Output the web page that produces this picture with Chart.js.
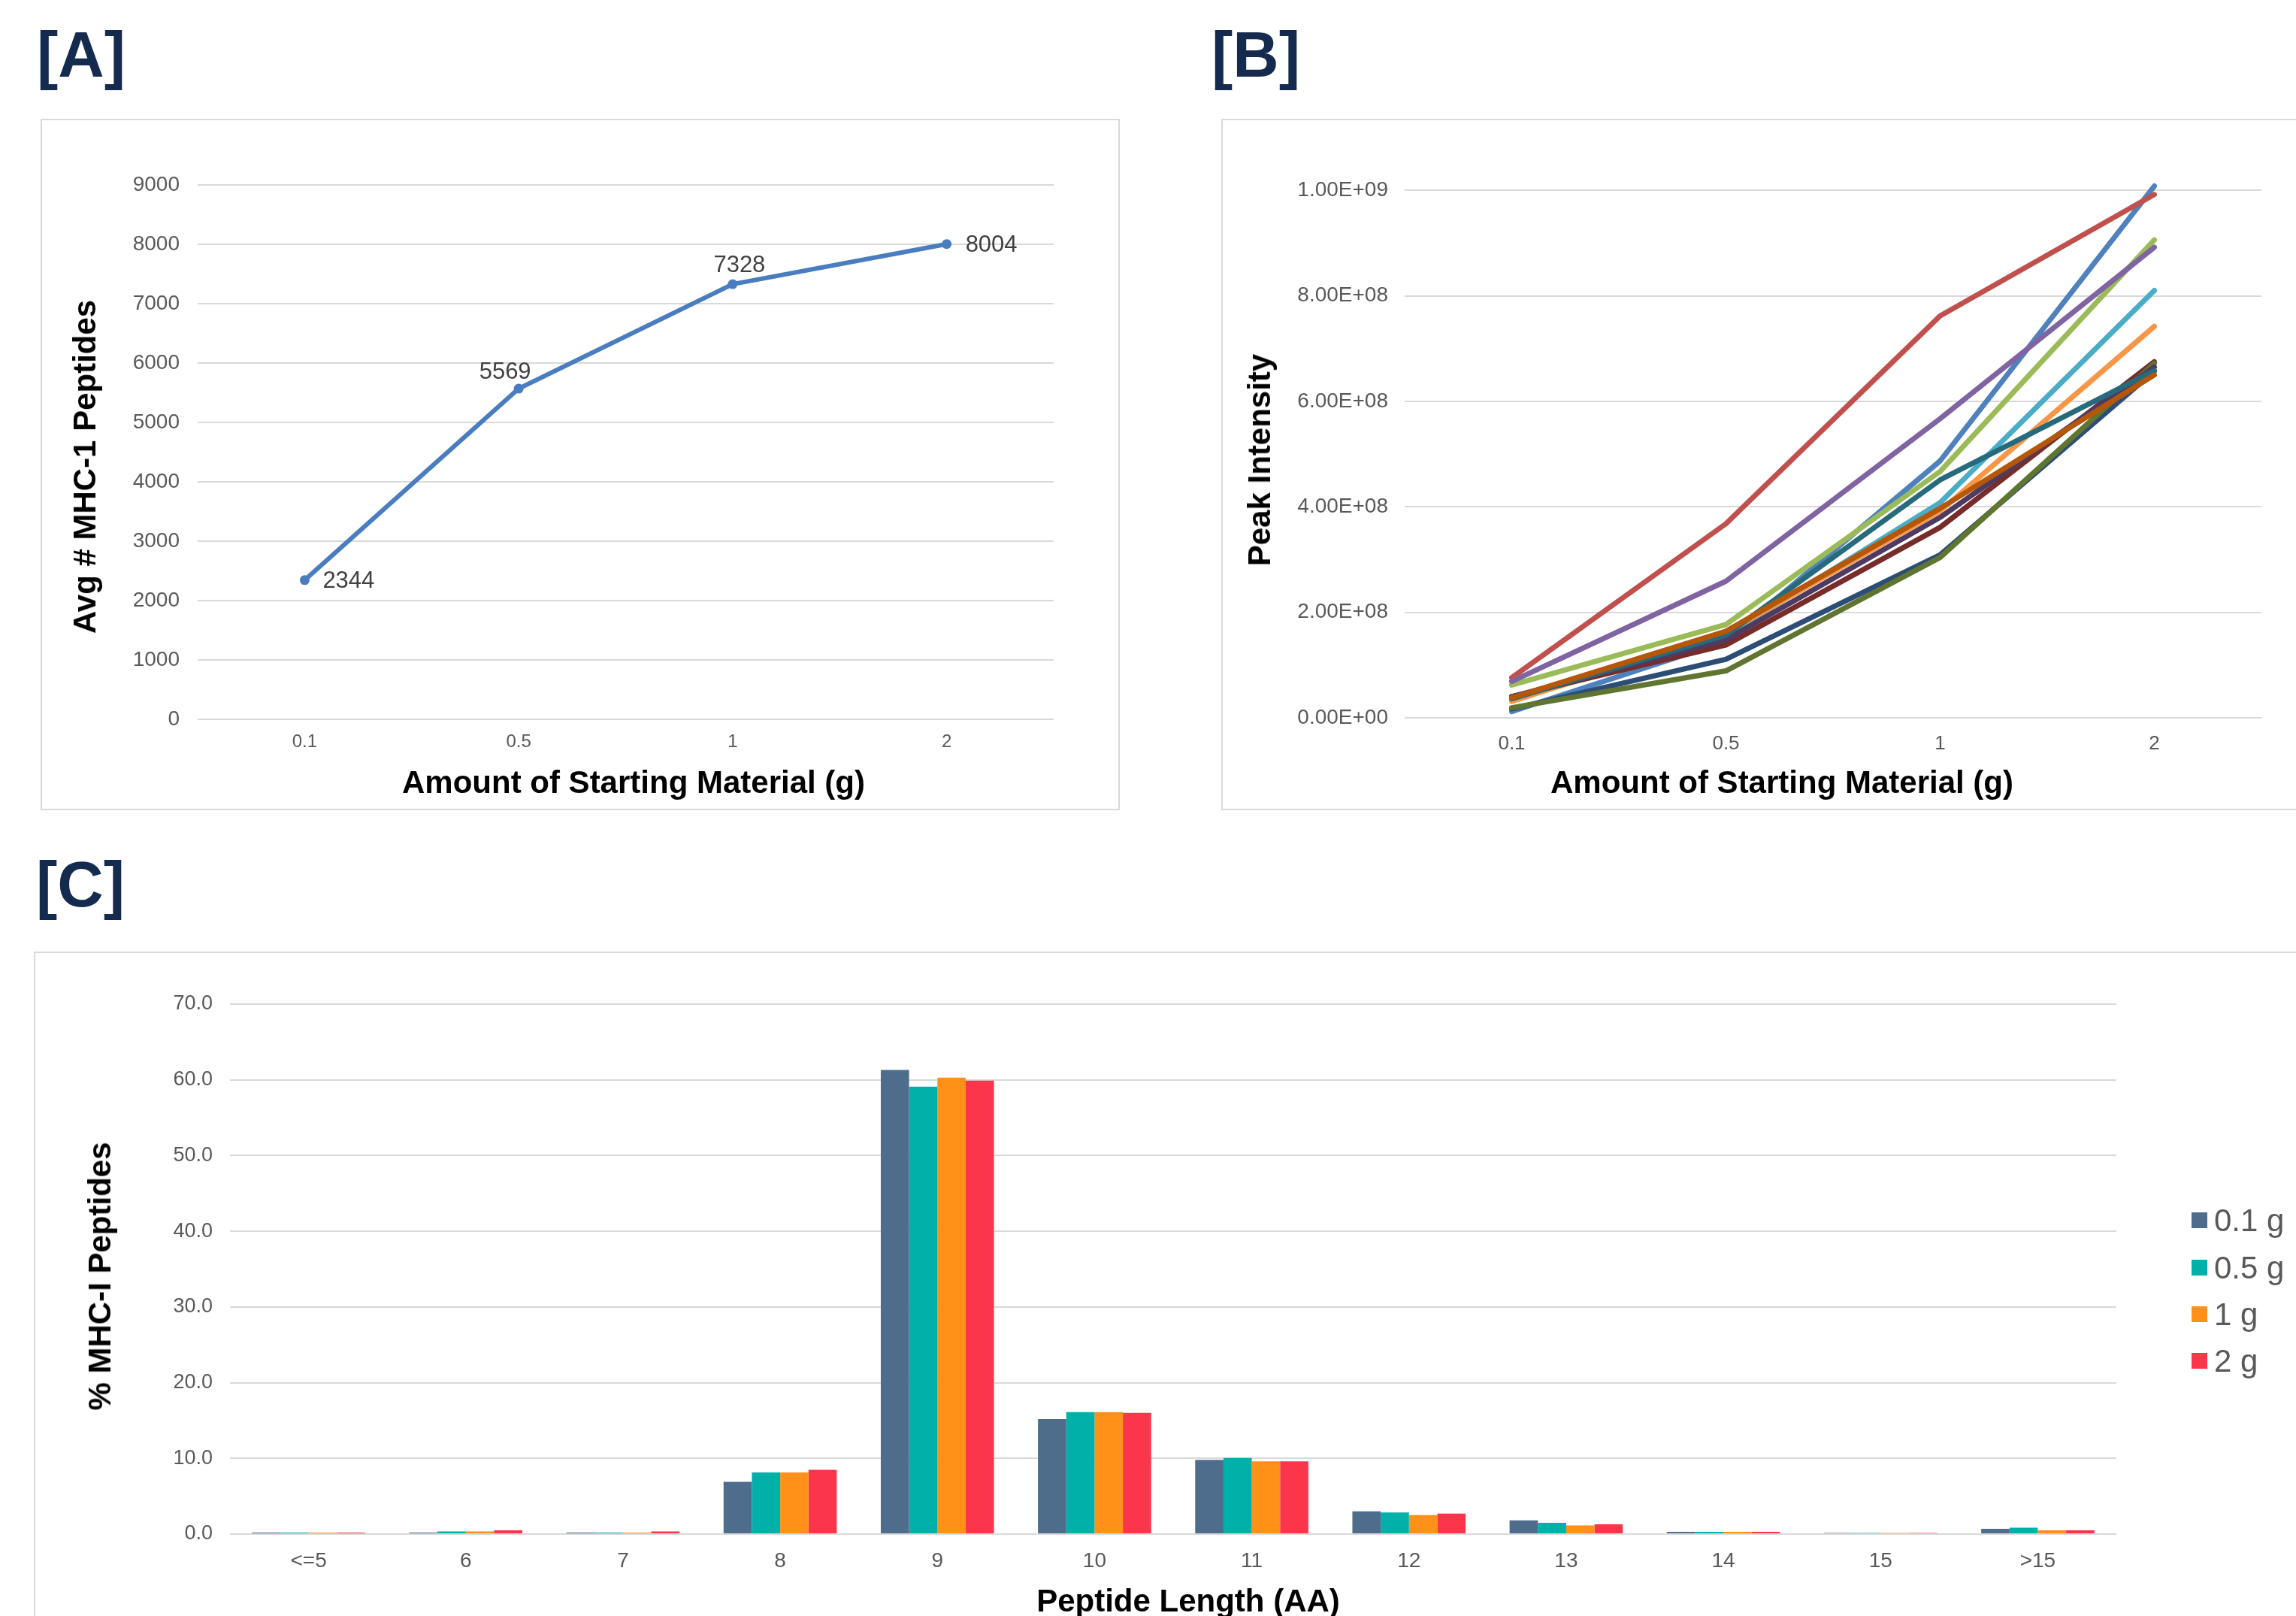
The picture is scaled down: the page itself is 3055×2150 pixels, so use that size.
<!DOCTYPE html>
<html>
<head>
<meta charset="utf-8">
<title>MHC-I peptide yield vs. starting material</title>
<script src="https://cdn.jsdelivr.net/npm/chart.js@4.4.1/dist/chart.umd.min.js"></script>
<style>
  html, body { margin: 0; padding: 0; background: #ffffff; }
  body { width: 3055px; height: 2150px; position: relative; overflow: hidden;
         font-family: 'Liberation Sans', Arial, sans-serif; }
  .panel-tag { position: absolute; font-weight: bold; font-size: 85px; line-height: 85px;
               color: #142a4f; white-space: nowrap; }
  .frame { position: absolute; box-sizing: border-box; border: 2px solid #d9d9d9; }
  canvas { position: absolute; }
  .axis-title { position: absolute; font-weight: bold; font-size: 42px; line-height: 42px;
                color: #000000; white-space: nowrap; }
  .h-title { transform: translate(-50%, -50%); }
  .v-title { transform: translate(-50%, -50%) rotate(-90deg); }
  .legend-row { position: absolute; height: 42px; white-space: nowrap; }
  .legend-swatch { position: absolute; left: 0; top: 10px; width: 21px; height: 21px; }
  .legend-text { position: absolute; left: 30px; top: 0; font-size: 42px; line-height: 42px; color: #595959; }
</style>
</head>
<body>

<!-- panel frames -->
<div class="frame" style="left:54px; top:158px; width:1436px; height:920px;"></div>
<div class="frame" style="left:1625px; top:158px; width:1450px; height:920px;"></div>
<div class="frame" style="left:45px; top:1266px; width:3030px; height:920px;"></div>

<!-- panel tags -->
<div class="panel-tag" style="left:49px; top:30px;">[A]</div>
<div class="panel-tag" style="left:1612px; top:30px;">[B]</div>
<div class="panel-tag" style="left:48px; top:1134px;">[C]</div>

<canvas id="chartA" width="1436" height="920" style="left:54px; top:158px;"></canvas>
<canvas id="chartB" width="1430" height="920" style="left:1625px; top:158px;"></canvas>
<canvas id="chartC" width="3010" height="884" style="left:45px; top:1266px;"></canvas>

<!-- axis titles -->
<div class="axis-title v-title" style="left:113px; top:621px;">Avg # MHC-1 Peptides</div>
<div class="axis-title h-title" style="left:843px; top:1041px;">Amount of Starting Material (g)</div>
<div class="axis-title v-title" style="left:1676px; top:612px;">Peak Intensity</div>
<div class="axis-title h-title" style="left:2371px; top:1041px;">Amount of Starting Material (g)</div>
<div class="axis-title v-title" style="left:133px; top:1698px;">% MHC-I Peptides</div>
<div class="axis-title h-title" style="left:1581px; top:2130px;">Peptide Length (AA)</div>

<div id="legendC"></div>

<script>
// ---------- data ----------
// Panel A: average number of MHC-1 peptides per amount of starting material
const amounts = ['0.1', '0.5', '1', '2'];
const avgPeptides = [2344, 5569, 7328, 8004];

// Panel B: peak intensity of individual peptides across the same amounts
const pep01 = [1.2e7, 1.45e8, 4.87e8, 1.008e9];
const pep02 = [7.6e7, 3.68e8, 7.62e8, 9.92e8];
const pep03 = [6.2e7, 1.77e8, 4.67e8, 9.06e8];
const pep04 = [6.9e7, 2.59e8, 5.67e8, 8.92e8];
const pep05 = [3.4e7, 1.55e8, 4.08e8, 8.10e8];
const pep06 = [3.1e7, 1.61e8, 3.92e8, 7.42e8];
const pep07 = [1.7e7, 1.11e8, 3.09e8, 6.57e8];
const pep08 = [4.0e7, 1.38e8, 3.61e8, 6.75e8];
const pep09 = [1.9e7, 8.9e7, 3.04e8, 6.72e8];
const pep10 = [4.0e7, 1.48e8, 3.80e8, 6.65e8];
const pep11 = [3.6e7, 1.57e8, 4.51e8, 6.58e8];
const pep12 = [3.8e7, 1.64e8, 3.97e8, 6.50e8];
const peakSeries = [pep01, pep02, pep03, pep04, pep05, pep06, pep07, pep08, pep09, pep10, pep11, pep12];
const peakColors = ['#4f81bd', '#c0504d', '#9bbb59', '#8064a2', '#4bacc6', '#f79646',
                    '#2c4d75', '#772c2a', '#5f7530', '#4d3b62', '#276a7c', '#b65708'];
const peakTicks = [0, 2e8, 4e8, 6e8, 8e8, 1e9];

// Panel C: peptide length distribution (% of MHC-I peptides)
const lengthBins = ['<=5', '6', '7', '8', '9', '10', '11', '12', '13', '14', '15', '>15'];
const sampleNames = ['0.1 g', '0.5 g', '1 g', '2 g'];
const pct01g = [0.2, 0.2, 0.2, 6.9, 61.3, 15.2, 9.8, 3.0, 1.8, 0.3, 0.15, 0.7];
const pct05g = [0.2, 0.35, 0.2, 8.15, 59.1, 16.1, 10.05, 2.85, 1.5, 0.3, 0.15, 0.85];
const pct1g  = [0.2, 0.35, 0.2, 8.15, 60.3, 16.1, 9.6, 2.5, 1.15, 0.3, 0.15, 0.5];
const pct2g  = [0.2, 0.5, 0.35, 8.5, 59.9, 16.0, 9.6, 2.7, 1.3, 0.3, 0.15, 0.5];
const sampleColors = ['#4e6c8b', '#00b0a9', '#ff9018', '#fb364b'];

// ---------- shared styling ----------
const FONT = "'Liberation Sans', Arial, sans-serif";
const TICK_COLOR = '#595959';
const GRID_COLOR = '#d9d9d9';

const commonOpts = {
  responsive: false,
  animation: false,
  devicePixelRatio: 1,
  events: []
};

// fixes the size of an axis box and drops the overhang reserved for end labels
function fixedWidth(w) {
  return s => { s.width = w; s.paddingTop = 0; s.paddingBottom = 0; };
}
function fixedHeight(h) {
  return s => { s.height = h; s.paddingLeft = 0; s.paddingRight = 0; };
}

// value labels next to the points of panel A
const pointLabels = {
  id: 'pointLabels',
  afterDatasetsDraw(chart, args, opts) {
    const ctx = chart.ctx;
    const meta = chart.getDatasetMeta(0);
    const values = chart.data.datasets[0].data;
    ctx.save();
    ctx.font = opts.size + 'px ' + FONT;
    ctx.fillStyle = opts.color;
    ctx.textBaseline = 'middle';
    meta.data.forEach((pt, i) => {
      const p = opts.placement[i];
      ctx.textAlign = p.side === 'right' ? 'left' : 'center';
      ctx.fillText(String(values[i]), pt.x + p.dx, pt.y + p.dy);
    });
    ctx.restore();
  }
};

// ---------- panel A ----------
new Chart(document.getElementById('chartA'), {
  type: 'line',
  data: {
    labels: amounts,
    datasets: [{
      data: avgPeptides,
      borderColor: '#4a7dbf',
      backgroundColor: '#4a7dbf',
      borderWidth: 6,
      pointRadius: 6.5,
      pointBorderWidth: 0,
      tension: 0
    }]
  },
  options: Object.assign({}, commonOpts, {
    layout: { padding: { top: 88, right: 88, bottom: 0, left: 0 } },
    plugins: {
      legend: { display: false },
      tooltip: { enabled: false },
      pointLabels: {
        size: 31,
        color: '#404040',
        placement: [
          { side: 'right', dx: 24, dy: 2 },
          { side: 'above', dx: -18, dy: -22 },
          { side: 'above', dx: 9, dy: -25 },
          { side: 'right', dx: 25, dy: 2 }
        ]
      }
    },
    scales: {
      x: {
        offset: true,
        grid: { display: false, drawTicks: false },
        border: { display: false },
        ticks: { font: { family: FONT, size: 24 }, color: TICK_COLOR, padding: 16, maxRotation: 0, autoSkip: false },
        afterFit: fixedHeight(121)
      },
      y: {
        min: 0, max: 9000,
        grid: { color: GRID_COLOR, lineWidth: 2, drawTicks: false },
        border: { display: false },
        ticks: { stepSize: 1000, font: { family: FONT, size: 28 }, color: TICK_COLOR, padding: 24,
                 callback: v => String(v) },
        afterFit: fixedWidth(209)
      }
    }
  }),
  plugins: [pointLabels]
});

// ---------- panel B ----------
function sciLabel(v) {
  if (v === 0) return '0.00E+00';
  const e = Math.floor(Math.log10(v) + 1e-9);
  const m = v / Math.pow(10, e);
  return m.toFixed(2) + 'E+' + String(e).padStart(2, '0');
}

const n = peakSeries.length;
new Chart(document.getElementById('chartB'), {
  type: 'line',
  data: {
    labels: amounts,
    datasets: peakSeries.map((vals, i) => ({
      data: vals,
      borderColor: peakColors[i],
      backgroundColor: peakColors[i],
      borderWidth: 7,
      pointRadius: 0,
      borderCapStyle: 'round',
      borderJoinStyle: 'round',
      tension: 0,
      order: n - i
    }))
  },
  options: Object.assign({}, commonOpts, {
    layout: { padding: { top: 25, right: 46, bottom: 0, left: 0 } },
    plugins: { legend: { display: false }, tooltip: { enabled: false } },
    scales: {
      x: {
        offset: true,
        grid: { display: false, drawTicks: false },
        border: { display: false },
        ticks: { font: { family: FONT, size: 26 }, color: TICK_COLOR, padding: 19, maxRotation: 0, autoSkip: false },
        afterFit: fixedHeight(123)
      },
      y: {
        min: 0, max: 1.1e9,
        grid: { color: GRID_COLOR, lineWidth: 2, drawTicks: false },
        border: { display: false },
        ticks: { font: { family: FONT, size: 28 }, color: TICK_COLOR, padding: 22,
                 callback: v => sciLabel(v) },
        afterBuildTicks: s => { s.ticks = peakTicks.map(v => ({ value: v })); },
        afterFit: fixedWidth(244)
      }
    }
  })
});

// ---------- panel C ----------
const chartC = new Chart(document.getElementById('chartC'), {
  type: 'bar',
  data: {
    labels: lengthBins,
    datasets: [pct01g, pct05g, pct1g, pct2g].map((vals, i) => ({
      label: sampleNames[i],
      data: vals,
      backgroundColor: sampleColors[i],
      borderWidth: 0,
      categoryPercentage: 0.72,
      barPercentage: 1.0
    }))
  },
  options: Object.assign({}, commonOpts, {
    layout: { padding: { top: 70, right: 239, bottom: 0, left: 0 } },
    plugins: { legend: { display: false }, tooltip: { enabled: false } },
    scales: {
      x: {
        grid: { display: false, drawTicks: false },
        border: { display: false },
        ticks: { font: { family: FONT, size: 28 }, color: TICK_COLOR, padding: 19, maxRotation: 0, autoSkip: false },
        afterFit: fixedHeight(109)
      },
      y: {
        min: 0, max: 70,
        grid: { color: GRID_COLOR, lineWidth: 2, drawTicks: false },
        border: { display: false },
        ticks: { stepSize: 10, font: { family: FONT, size: 27 }, color: TICK_COLOR, padding: 23,
                 callback: v => Number(v).toFixed(1) },
        afterFit: fixedWidth(261)
      }
    }
  })
});

// legend for panel C, built from the chart's datasets
(function buildLegend() {
  const host = document.getElementById('legendC');
  const rowCenters = [1624, 1687, 1749, 1811];
  chartC.data.datasets.forEach((ds, i) => {
    const row = document.createElement('div');
    row.className = 'legend-row';
    row.style.left = '2916px';
    row.style.top = (rowCenters[i] - 21) + 'px';
    const sw = document.createElement('div');
    sw.className = 'legend-swatch';
    sw.style.background = ds.backgroundColor;
    const tx = document.createElement('div');
    tx.className = 'legend-text';
    tx.textContent = ds.label;
    row.appendChild(sw);
    row.appendChild(tx);
    host.appendChild(row);
  });
})();
</script>
</body>
</html>
